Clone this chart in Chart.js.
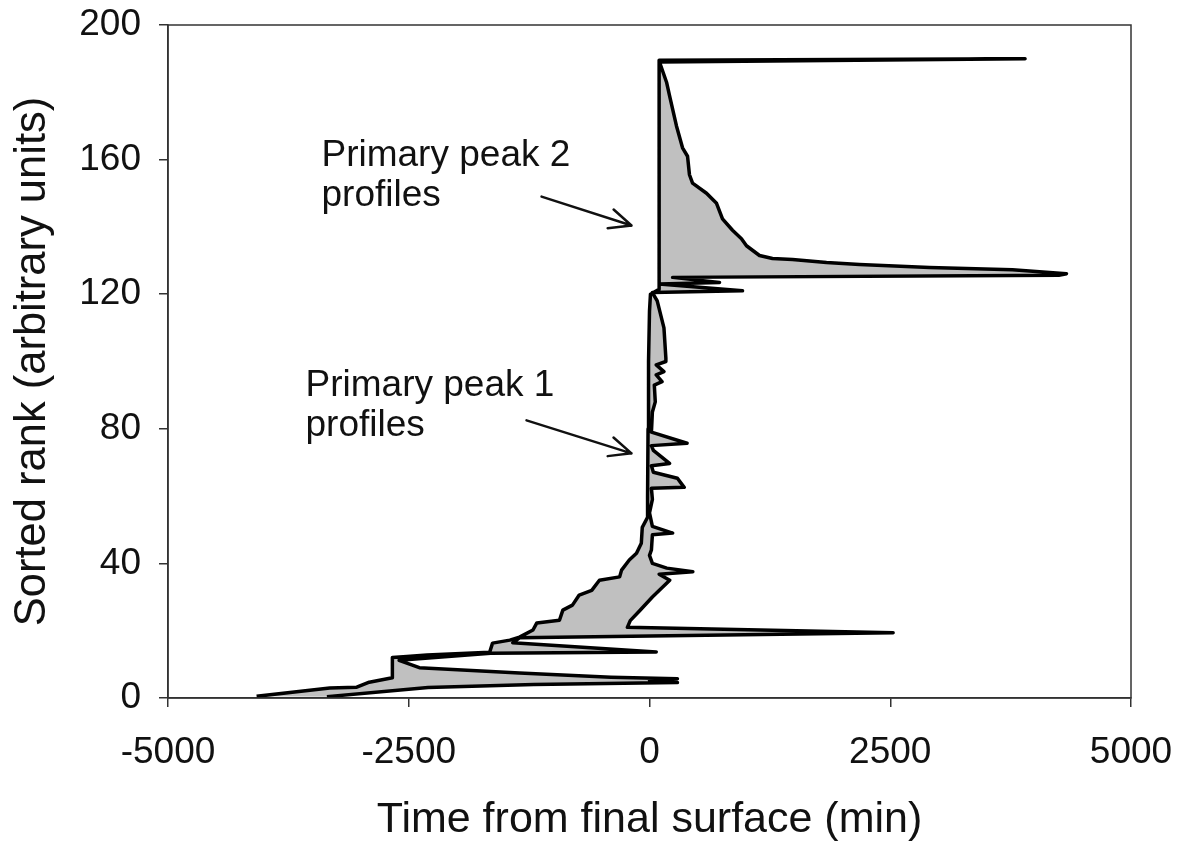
<!DOCTYPE html>
<html>
<head>
<meta charset="utf-8">
<script src="https://cdn.jsdelivr.net/npm/chart.js@4/dist/chart.umd.min.js"></script>
<style>
  html, body { margin: 0; padding: 0; background: #fff; }
  #wrap { width: 1183px; height: 842px; }
</style>
</head>
<body>
<div id="wrap"><canvas id="chart" width="1183" height="842"></canvas></div>
<script>
// left edge of the profiles (bottom to top)
const leftTime = [-4080, -3320, -3040, -2910, -2670, -2670, -2520, -2310, -1660, -1630, -1450, -1350,
  -1210, -1170, -935, -900, -800, -730, -600, -520, -310, -290, -210, -135, -85, -75, -20, -20,
  -15, -10, 0, 10, 100, 100];
const leftRank = [0.5, 3.0, 3.2, 4.7, 6.0, 12.0, 12.3, 12.8, 13.6, 16.3, 17.2, 18.1,
  20.2, 22.3, 23.1, 26.1, 27.6, 30.6, 32, 35, 36, 38, 41, 43, 46, 50.7, 53.7, 60,
  80, 100, 115, 120, 121.5, 189.5];

// right edge of the profiles (top to bottom)
const rightTime = [3900, 104, 177, 208, 280, 343, 395, 415, 447, 592, 696, 758, 862, 955, 1007,
  1142, 1277, 1485, 1838, 2181, 2908, 3769, 4330, 4250, 240, 727, 100, 966, 30,
  80, 150, 170, 170, 70, 150, 70, 130, 50, 60, 30, 20, 390, 20, 40, 208, 20, 40, 290, 360, 20,
  30, 0, 30, 240, 30, 20, 0, 30, 180, 450, 100, 210, 30, -100, -200, -230, 2530, -1350,
  -1420, 70, -1650, -2600, -2390, -1350, -400, 290, 0, 290, -1200, -2300, -3350];
const rightRank = [190, 189, 183, 179, 170, 163.5, 161, 155.5, 153, 150, 147, 142.4, 139, 136.5, 134.4,
  131.5, 130.6, 130.3, 129.4, 128.8, 127.9, 127.3, 126.1, 125.6, 125, 123.5, 123, 121, 120.5,
  118, 110, 101, 100, 99, 97, 96, 94, 93, 88, 85, 79, 75.7, 75, 73.6, 69.7, 69, 67.1, 65.3, 62.6, 62.3,
  59, 55, 51, 49, 48.5, 44, 42.4, 40, 38.6, 37.5, 36.8, 35, 30, 26, 23, 21, 19.4, 17.9,
  16.4, 13.7, 13.3, 11.2, 9, 7.4, 6.2, 5.7, 5.2, 4.6, 4.0, 3.1, 0.4];

const xTicks = [-5000, -2500, 0, 2500, 5000];
const yTicks = [0, 40, 80, 120, 160, 200];

const notes = [
  { text: ["Primary peak 2", "profiles"], x: -3406, y: 161.0 },
  { text: ["Primary peak 1", "profiles"], x: -3572, y: 92.8 }
];
const arrows = [
  { from: [-1121, 149], to: [-187, 140.4] },
  { from: [-1277, 82.5], to: [-187, 72.7] }
];

const outline = [];
leftTime.forEach((t, i) => outline.push({ x: t, y: leftRank[i] }));
rightTime.forEach((t, i) => outline.push({ x: t, y: rightRank[i] }));

const FONT = "'Liberation Sans', Arial, sans-serif";

const extras = {
  id: "extras",
  afterDraw(chart) {
    const ctx = chart.ctx;
    const a = chart.chartArea;
    const xs = chart.scales.x, ys = chart.scales.y;
    ctx.save();
    ctx.strokeStyle = "#333";
    ctx.lineWidth = 1.5;
    ctx.strokeRect(a.left, a.top, a.right - a.left, a.bottom - a.top);

    ctx.fillStyle = "#111";
    ctx.font = "37px " + FONT;
    ctx.textAlign = "left";
    ctx.textBaseline = "middle";
    notes.forEach(n => {
      const px = xs.getPixelForValue(n.x), py = ys.getPixelForValue(n.y);
      n.text.forEach((line, i) => ctx.fillText(line, px, py + i * 40));
    });

    ctx.strokeStyle = "#111";
    ctx.lineWidth = 2.5;
    ctx.lineCap = "round";
    arrows.forEach(ar => {
      const x1 = xs.getPixelForValue(ar.from[0]), y1 = ys.getPixelForValue(ar.from[1]);
      const x2 = xs.getPixelForValue(ar.to[0]), y2 = ys.getPixelForValue(ar.to[1]);
      const ang = Math.atan2(y2 - y1, x2 - x1);
      ctx.beginPath();
      ctx.moveTo(x1, y1);
      ctx.lineTo(x2, y2);
      [-0.42, 0.42].forEach(d => {
        ctx.moveTo(x2, y2);
        ctx.lineTo(x2 - 24 * Math.cos(ang + d), y2 - 24 * Math.sin(ang + d));
      });
      ctx.stroke();
    });
    ctx.restore();
  }
};

new Chart(document.getElementById("chart"), {
  type: "line",
  data: {
    datasets: [{
      data: outline,
      fill: "shape",
      backgroundColor: "#c0c0c0",
      borderColor: "#000",
      borderWidth: 3.5,
      borderJoinStyle: "round",
      pointRadius: 0,
      tension: 0
    }]
  },
  options: {
    responsive: false,
    animation: false,
    layout: { padding: { top: 25, right: 52, bottom: 0, left: 0 } },
    plugins: { legend: { display: false }, tooltip: { enabled: false } },
    scales: {
      x: {
        type: "linear",
        min: -5000, max: 5000,
        afterBuildTicks: s => { s.ticks = xTicks.map(v => ({ value: v })); },
        afterFit: s => { s.height = 144; s.paddingLeft = 0; s.paddingRight = 0; },
        grid: { drawOnChartArea: false, tickLength: 9, color: "#333", lineWidth: 1.5 },
        border: { color: "#333", width: 1.5 },
        ticks: { font: { size: 37, family: FONT }, color: "#111", padding: 24, maxRotation: 0, callback: v => String(v) },
        title: { display: true, text: "Time from final surface (min)", font: { size: 43, family: FONT, lineHeight: 1 }, color: "#111", padding: 0 }
      },
      y: {
        min: 0, max: 200,
        afterBuildTicks: s => { s.ticks = yTicks.map(v => ({ value: v })); },
        afterFit: s => { s.width = 168; s.paddingTop = 0; s.paddingBottom = 0; },
        grid: { drawOnChartArea: false, tickLength: 9, color: "#333", lineWidth: 1.5 },
        border: { color: "#333", width: 1.5 },
        ticks: { font: { size: 37, family: FONT }, color: "#111", padding: 18, callback: v => String(v) },
        title: { display: true, text: "Sorted rank (arbitrary units)", font: { size: 43.5, family: FONT, lineHeight: 1 }, color: "#111", padding: { top: 11, bottom: 0 } }
      }
    }
  },
  plugins: [extras]
});
</script>
</body>
</html>
